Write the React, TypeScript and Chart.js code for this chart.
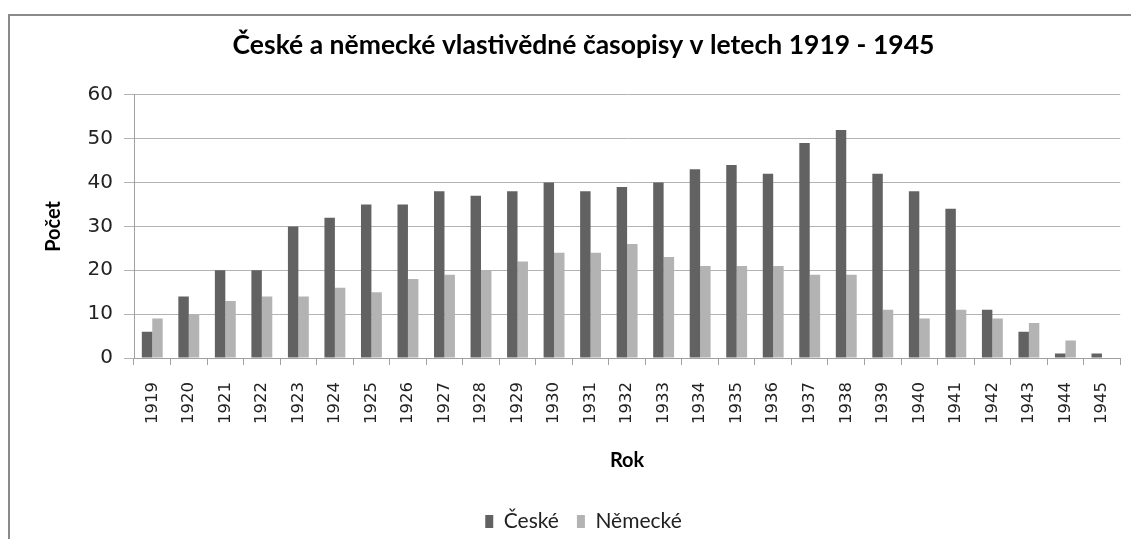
import React, { useEffect, useRef } from "react";
import { Chart, registerables } from "chart.js";

Chart.register(...registerables);

const years = [
  "1919", "1920", "1921", "1922", "1923", "1924", "1925", "1926", "1927",
  "1928", "1929", "1930", "1931", "1932", "1933", "1934", "1935", "1936",
  "1937", "1938", "1939", "1940", "1941", "1942", "1943", "1944", "1945",
];
const ceske = [6, 14, 20, 20, 30, 32, 35, 35, 38, 37, 38, 40, 38, 39, 40, 43, 44, 42, 49, 52, 42, 38, 34, 11, 6, 1, 1];
const nemecke = [9, 10, 13, 14, 14, 16, 15, 18, 19, 20, 22, 24, 24, 26, 23, 21, 21, 21, 19, 19, 11, 9, 11, 9, 8, 4, 0];
const yTicks = [0, 10, 20, 30, 40, 50, 60];

const titleText = "České a německé vlastivědné časopisy v letech 1919 - 1945";

export default function App() {
  const ref = useRef<HTMLCanvasElement | null>(null);

  useEffect(() => {
    if (!ref.current) return;
    const chart = new Chart(ref.current, {
      type: "bar",
      data: {
        labels: years,
        datasets: [
          {
            label: "České",
            data: ceske,
            backgroundColor: "#626262",
            borderWidth: 0,
            categoryPercentage: 0.572,
            barPercentage: 1,
          },
          {
            label: "Německé",
            data: nemecke,
            backgroundColor: "#b3b3b3",
            borderWidth: 0,
            categoryPercentage: 0.572,
            barPercentage: 1,
          },
        ],
      },
      options: {
        animation: false,
        responsive: false,
        layout: { padding: { left: 32, right: 14, top: 0, bottom: -3 } },
        plugins: {
          title: {
            display: true,
            text: titleText,
            color: "#000",
            font: { family: "Lato", size: 26.5, weight: "bold" },
            padding: { top: 14, bottom: 33 },
          },
          legend: {
            position: "bottom",
            labels: {
              color: "#222",
              font: { family: "Lato", size: 21 },
              boxWidth: 8,
              boxHeight: 13,
              padding: 18,
            },
          },
          tooltip: { enabled: false },
        },
        scales: {
          x: {
            grid: {
              drawOnChartArea: false,
              drawTicks: true,
              tickLength: 7,
              color: "#a0a0a0",
              offset: true,
            },
            border: { color: "#a0a0a0", width: 1 },
            ticks: {
              color: "#222",
              font: { family: "DejaVu Sans", size: 16.5 },
              minRotation: 90,
              maxRotation: 90,
              padding: 17,
              autoSkip: false,
            },
            title: {
              display: true,
              text: "Rok",
              color: "#000",
              font: { family: "Lato", size: 20, weight: "bold" },
              padding: { top: 0, bottom: 20 },
            },
            afterFit: (s: any) => {
              s.height = 135;
            },
          },
          y: {
            min: 0,
            max: 60,
            afterBuildTicks: (s: any) => {
              s.ticks = yTicks.map((v) => ({ value: v }));
            },
            grid: {
              color: "#b3b3b3",
              lineWidth: 1,
              tickLength: 10,
              drawTicks: true,
            },
            border: { color: "#a0a0a0", width: 1 },
            ticks: {
              color: "#222",
              font: { family: "DejaVu Sans", size: 20 },
              padding: 11,
            },
            title: {
              display: true,
              text: "Počet",
              color: "#000",
              font: { family: "Lato", size: 20, weight: "bold" },
              padding: { top: 0, bottom: 0 },
            },
            afterFit: (s: any) => {
              s.width = 92;
            },
          },
        },
      },
    });
    return () => chart.destroy();
  }, []);

  return (
    <div style={{ paddingTop: 6 }}>
      <div
        style={{
          width: 1129,
          height: 523,
          borderTop: "2px solid #8a8a8a",
          borderLeft: "2px solid #8a8a8a",
          background: "#fff",
          overflow: "hidden",
        }}
      >
        <canvas ref={ref} width={1129} height={523} style={{ display: "block" }} />
      </div>
    </div>
  );
}
